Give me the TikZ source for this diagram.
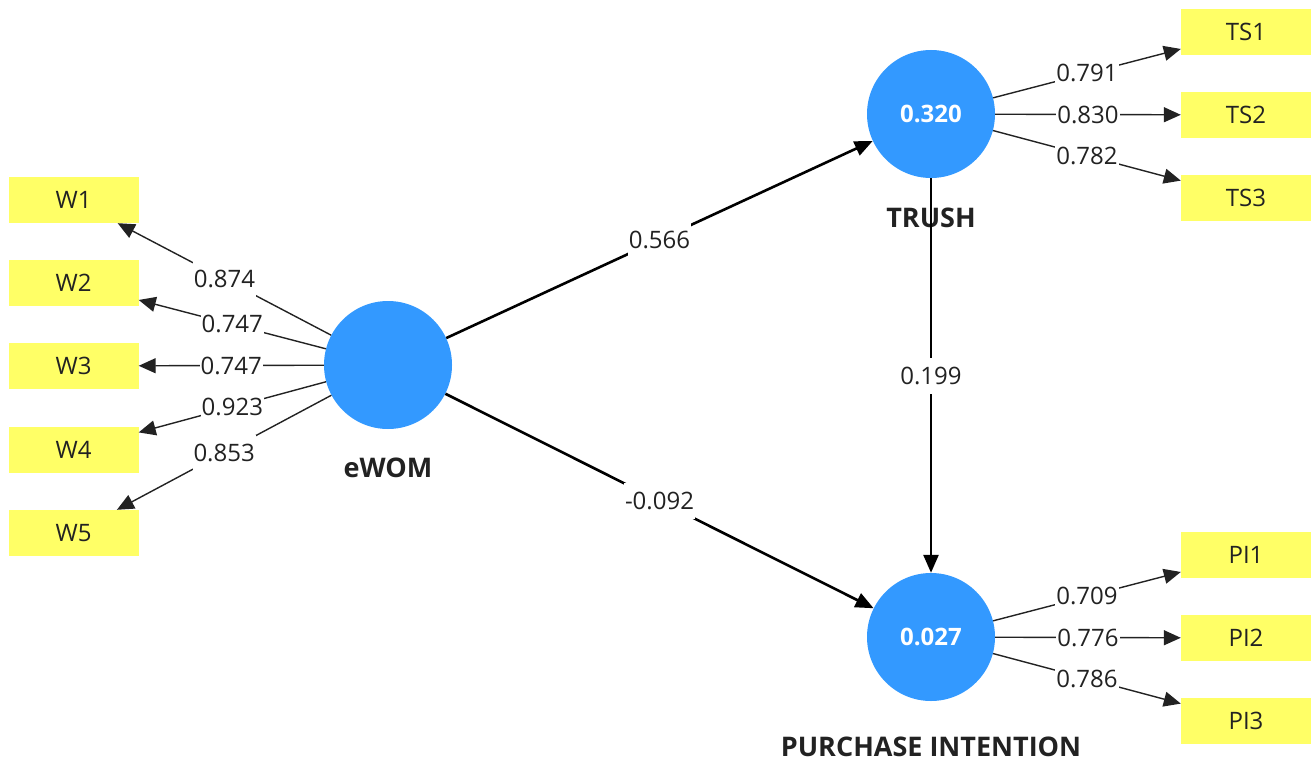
\documentclass[tikz,border=0pt]{standalone}
\usepackage{fontspec}
\setmainfont{Open Sans}
\usetikzlibrary{arrows.meta}
\definecolor{lvblue}{RGB}{51,153,255}
\definecolor{indyellow}{RGB}{255,255,102}
\definecolor{ink}{RGB}{34,34,34}
\begin{document}
\begin{tikzpicture}[x=1pt,y=-1pt,
  latent/.style={circle,fill=lvblue,minimum size=128pt,inner sep=0pt,text=white,
    font=\fontsize{24}{28}\selectfont\bfseries},
  indicator/.style={rectangle,fill=indyellow,minimum width=130pt,minimum height=46pt,
    inner sep=0pt,text=ink,font=\fontsize{24}{28}\selectfont},
  lvname/.style={text=ink,font=\fontsize{27}{31}\selectfont\bfseries},
  weight/.style={fill=white,inner xsep=1pt,inner ysep=0pt,minimum height=36pt,text=ink,
    font=\fontsize{24}{28}\selectfont},
  outerarrow/.style={draw=ink,line width=1.4pt,-{Triangle[length=17pt,width=15pt]}},
  innerarrow/.style={draw=black,line width=2.6pt,-{Triangle[length=18pt,width=15pt]}}]
\useasboundingbox (0,0) rectangle (1311,765);

% latent variables
\node[latent] (ewom) at (388,365) {};
\node[latent] (tr) at (931,114) {0.320};
\node[latent] (pi) at (931,637) {0.027};

\node[lvname] (ewomlab) at (388,468) {eWOM};
\node[lvname] (trlab) at (931,218) {TRUSH};
\node[lvname] (pilab) at (931,747) {PURCHASE INTENTION};

% indicators
\foreach \i/\y in {1/200,2/283,3/366,4/450,5/533}
  \node[indicator] (w\i) at (73.5,\y) {W\i};
\foreach \i/\y in {1/32,2/115,3/198}
  \node[indicator] (ts\i) at (1246,\y) {TS\i};
\foreach \i/\y in {1/555,2/638,3/721}
  \node[indicator] (pi\i) at (1246,\y) {PI\i};

% outer loadings
\draw[outerarrow] (ewom) -- node[weight] {0.874} (w1);
\draw[outerarrow] (ewom) -- node[weight] {0.747} (w2);
\draw[outerarrow] (ewom) -- node[weight] {0.747} (w3);
\draw[outerarrow] (ewom) -- node[weight] {0.923} (w4);
\draw[outerarrow] (ewom) -- node[weight] {0.853} (w5);

\draw[outerarrow] (tr) -- node[weight] {0.791} (ts1);
\draw[outerarrow] (tr) -- node[weight] {0.830} (ts2);
\draw[outerarrow] (tr) -- node[weight] {0.782} (ts3);

\draw[outerarrow] (pi) -- node[weight] {0.709} (pi1);
\draw[outerarrow] (pi) -- node[weight] {0.776} (pi2);
\draw[outerarrow] (pi) -- node[weight] {0.786} (pi3);

% path coefficients
\draw[innerarrow] (ewom) -- node[weight] {0.566} (tr);
\draw[innerarrow] (ewom) -- node[weight] {-0.092} (pi);
\draw[innerarrow] (tr) -- node[weight] {0.199} (pi);
\end{tikzpicture}
\end{document}
